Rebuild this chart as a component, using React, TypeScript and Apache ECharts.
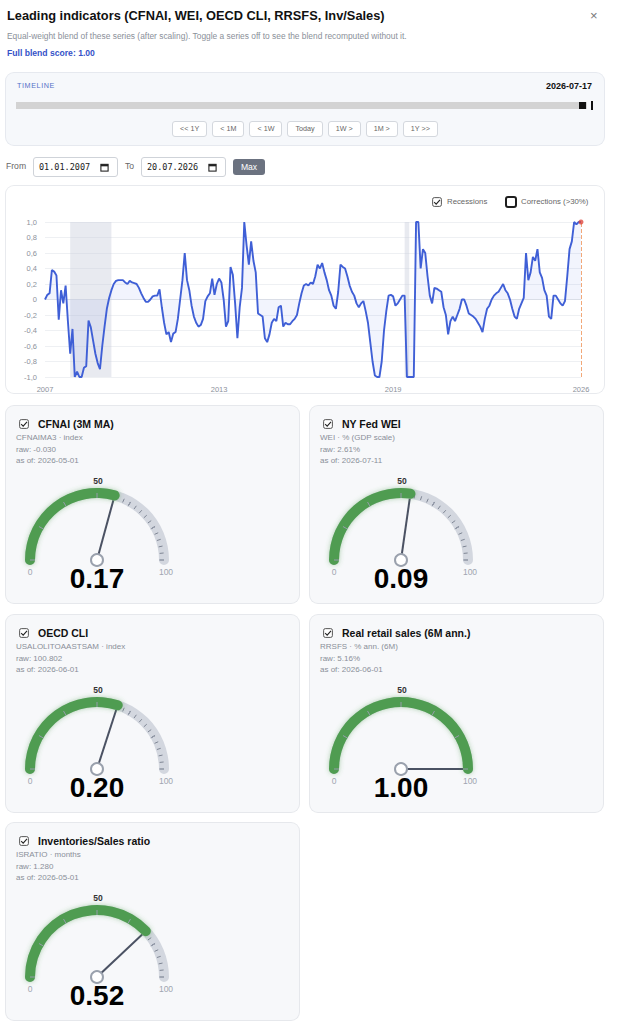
import React, { useEffect, useRef } from "react";
import * as echarts from "echarts";

const FONT = '"Liberation Sans", Arial, Helvetica, sans-serif';

// Monthly blend score, Jan 2007 .. Jul 2026, clipped to [-1, 1]
const START_YEAR = 2007;
const blendScore = [
  0.0, 0.06, 0.08, 0.38, 0.36, 0.31, -0.26, 0.12, -0.05, 0.18,
  -0.28, -0.7, -0.38, -1.0, -0.93, -1.0, -1.0, -0.88, -0.86, -0.27,
  -0.36, -0.53, -0.7, -0.82, -0.9, -0.6, -0.35, -0.12, 0.02, 0.12,
  0.2, 0.24, 0.25, 0.25, 0.25, 0.22, 0.2, 0.24, 0.22, 0.21,
  0.2, 0.15, 0.08, 0.02, -0.03, -0.03, 0.0, 0.04, 0.05, 0.05,
  0.13, -0.1, -0.3, -0.45, -0.42, -0.55, -0.44, -0.42, -0.25, 0.0,
  0.25, 0.6, 0.25, 0.12, -0.08, -0.22, -0.3, -0.35, -0.33, -0.25,
  -0.02, 0.04, 0.08, 0.27, 0.06, 0.2, 0.27, 0.22, 0.0, -0.35,
  -0.28, 0.42, 0.32, -0.05, -0.5, -0.1, 0.15, 1.0, 0.7, 0.45,
  0.75, 0.5, 0.35, -0.18, -0.2, -0.22, -0.5, -0.55, -0.45, -0.3,
  -0.25, -0.28, -0.1, -0.08, -0.35, -0.3, -0.32, -0.32, -0.28, -0.25,
  -0.2, -0.05, 0.08, 0.18, 0.2, 0.18, 0.22, 0.2, 0.3, 0.45,
  0.4, 0.47, 0.35, 0.25, 0.12, 0.05, -0.08, -0.12, 0.1, 0.45,
  0.42, 0.4, 0.3, 0.18, 0.1, 0.05, -0.05, -0.1, -0.05, -0.02,
  -0.15, -0.3, -0.55, -0.8, -0.98, -1.0, -1.0, -0.8, -0.4, -0.15,
  0.05, 0.06, 0.04, -0.08, -0.05, 0.0, 0.05, 0.05, -1.0, -1.0,
  -1.0, -1.0, 1.0, 1.0, 0.4, 0.65, 0.6, 0.3, 0.05, -0.05,
  0.15, 0.14, 0.12, 0.1, -0.1, -0.2, -0.45, -0.28, -0.22, -0.28,
  -0.2, -0.12, 0.0, 0.0, -0.08, -0.18, -0.2, -0.22, -0.25, -0.3,
  -0.35, -0.42, -0.25, -0.12, -0.08, 0.0, 0.05, 0.08, 0.1, 0.15,
  0.2, 0.12, 0.08, 0.0, -0.12, -0.22, -0.25, -0.12, -0.05, 0.02,
  0.6, 0.25, 0.35, 0.55, 0.5, 0.65, 0.35, 0.28, 0.12, 0.05,
  -0.22, -0.25, 0.05, 0.05, 0.0, -0.05, -0.08, -0.02, 0.3, 0.65,
  0.75, 1.0, 0.97, 1.0, 1.0,
];
const months = blendScore.map(
  (_, i) => `${START_YEAR + Math.floor(i / 12)}-${String((i % 12) + 1).padStart(2, "0")}`
);
// Category positions that carry a year label on the time axis
const xLabelIndices = [0, 76, 152, blendScore.length - 1];
const recessions = [
  ["2007-12", "2009-06"],
  ["2020-02", "2020-04"],
];

// Indicator cards
const cardTitles = ["CFNAI (3M MA)", "NY Fed WEI", "OECD CLI", "Real retail sales (6M ann.)", "Inventories/Sales ratio"];
const cardSeries = ["CFNAIMA3 · index", "WEI · % (GDP scale)", "USALOLITOAASTSAM · index", "RRSFS · % ann. (6M)", "ISRATIO · months"];
const cardRaw = ["-0.030", "2.61%", "100.802", "5.16%", "1.280"];
const cardAsOf = ["2026-05-01", "2026-07-11", "2026-06-01", "2026-06-01", "2026-05-01"];
const cardScores = [0.17, 0.09, 0.2, 1.0, 0.52];
const gaugeTickLabels = ["0", "50", "100"];

const timelineButtons = ["<< 1Y", "< 1M", "< 1W", "Today", "1W >", "1M >", "1Y >>"];

function CheckBox({ checked, size = 10, dark = false }: { checked: boolean; size?: number; dark?: boolean }) {
  return (
    <svg width={size} height={size} viewBox="0 0 12 12" style={{ display: "block" }}>
      <rect
        x={dark ? 1 : 0.75}
        y={dark ? 1 : 0.75}
        width={dark ? 10 : 10.5}
        height={dark ? 10 : 10.5}
        rx={2}
        fill="#fff"
        stroke={dark ? "#1f1f1f" : "#555"}
        strokeWidth={dark ? 2 : 1.2}
      />
      {checked && <polyline points="2.6,6.2 5,8.6 9.6,3.4" fill="none" stroke="#222" strokeWidth={1.3} />}
    </svg>
  );
}

function CalendarIcon() {
  return (
    <svg width={9} height={9} viewBox="0 0 10 10" style={{ display: "block" }}>
      <rect x={1} y={1.5} width={8} height={7.5} fill="none" stroke="#222" strokeWidth={1.2} />
      <rect x={1} y={1.5} width={8} height={2.2} fill="#222" />
    </svg>
  );
}

function Txt(props: {
  x?: number;
  right?: number;
  cy: number;
  size: number;
  color?: string;
  weight?: any;
  children: any;
  style?: any;
}) {
  const { x, right, cy, size, color = "#222", weight = "normal", children, style } = props;
  return (
    <div
      style={{
        position: "absolute",
        left: x,
        right,
        top: cy - size,
        lineHeight: `${size * 2}px`,
        fontSize: size,
        color,
        fontWeight: weight,
        whiteSpace: "nowrap",
        ...style,
      }}
    >
      {children}
    </div>
  );
}

function BlendChart() {
  const ref = useRef<HTMLDivElement>(null);
  useEffect(() => {
    const chart = echarts.init(ref.current!, null, { renderer: "svg" });
    const last = blendScore.length - 1;
    chart.setOption({
      animation: false,
      grid: { left: 39, right: 23, top: 36, bottom: 14 },
      xAxis: {
        type: "category",
        data: months,
        boundaryGap: false,
        axisLine: { lineStyle: { color: "#dfe2e8" } },
        axisTick: { show: false },
        splitLine: { show: false },
        axisLabel: {
          interval: (i: number) => xLabelIndices.includes(i),
          formatter: (v: string) => v.slice(0, 4),
          color: "#8c919b",
          fontSize: 7.5,
          margin: 8,
          fontFamily: FONT,
        },
      },
      yAxis: {
        type: "value",
        min: -1,
        max: 1,
        interval: 0.2,
        axisLine: { show: false },
        axisTick: { show: false },
        splitLine: { lineStyle: { color: "#eef0f3", width: 1 } },
        axisLabel: {
          formatter: (v: number) => (Math.abs(v) < 1e-9 ? "0" : v.toFixed(1).replace(".", ",")),
          color: "#8c919b",
          fontSize: 7.5,
          margin: 8,
          fontFamily: FONT,
        },
      },
      series: [
        {
          type: "line",
          data: blendScore,
          symbol: "none",
          lineStyle: { color: "#3f5fd6", width: 1.9 },
          areaStyle: { color: "rgba(92,120,225,0.12)" },
          markArea: {
            silent: true,
            itemStyle: { color: "rgba(200,205,220,0.42)" },
            data: recessions.map(([a, b]) => [{ xAxis: a }, { xAxis: b }]),
          },
          markLine: {
            silent: true,
            symbol: "none",
            label: { show: false },
            lineStyle: { color: "#f2a878", type: "dashed", width: 1 },
            data: [{ xAxis: months[last] }],
          },
        },
        {
          type: "scatter",
          data: [[months[last], blendScore[last]]],
          symbolSize: 5,
          itemStyle: { color: "#e0483e" },
          z: 5,
        },
      ],
    });
    return () => chart.dispose();
  }, []);
  return <div ref={ref} style={{ position: "absolute", left: 0, top: 0, width: 598, height: 207 }} />;
}

function Gauge({ score }: { score: number }) {
  const ref = useRef<HTMLDivElement>(null);
  useEffect(() => {
    const chart = echarts.init(ref.current!, null, { renderer: "svg" });
    const cx = 91;
    const cy = 154;
    const r = 72;
    const value = (score + 1) * 50;
    const common = {
      type: "gauge",
      center: [cx, cy],
      radius: r,
      startAngle: 180,
      endAngle: 0,
      min: 0,
      max: 100,
      splitNumber: 6,
    };
    chart.setOption({
      animation: false,
      series: [
        {
          ...common,
          axisLine: { roundCap: true, lineStyle: { width: 10, color: [[1, "#d3d7df"]] } },
          progress: {
            show: true,
            roundCap: true,
            width: 10,
            itemStyle: { color: "#4f9c51", shadowBlur: 5, shadowColor: "rgba(79,156,81,0.45)" },
          },
          axisTick: { show: true, splitNumber: 5, distance: -5, length: 4, lineStyle: { color: "#7f8694", width: 1 } },
          splitLine: { show: false },
          axisLabel: { show: false },
          pointer: { show: true, icon: "rect", length: 62, width: 2, itemStyle: { color: "#4b5263" } },
          anchor: {
            show: true,
            showAbove: true,
            size: 12,
            itemStyle: { color: "#fff", borderColor: "#9aa1ad", borderWidth: 2 },
          },
          title: { show: false },
          detail: {
            show: true,
            offsetCenter: [0, 18],
            formatter: () => score.toFixed(2),
            fontSize: 28,
            fontWeight: "bold",
            color: "#000",
            fontFamily: FONT,
          },
          data: [{ value }],
          z: 2,
        },
        {
          ...common,
          axisLine: { show: false },
          progress: { show: false },
          axisTick: { show: false },
          splitLine: { show: true, distance: -5, length: 5, lineStyle: { color: "#959cab", width: 1 } },
          axisLabel: { show: false },
          pointer: { show: false },
          anchor: { show: false },
          title: { show: false },
          detail: { show: false },
          data: [{ value: 0 }],
          z: 3,
        },
      ],
      graphic: [
        {
          type: "text",
          x: cx - 67,
          y: cy + 12,
          style: { text: gaugeTickLabels[0], align: "center", verticalAlign: "middle", fill: "#a0a5b0", fontSize: 8.5, fontFamily: FONT },
        },
        {
          type: "text",
          x: cx + 1,
          y: cy - 79,
          style: { text: gaugeTickLabels[1], align: "center", verticalAlign: "middle", fill: "#333", fontSize: 8.5, fontWeight: "bold", fontFamily: FONT },
        },
        {
          type: "text",
          x: cx + 69,
          y: cy + 12,
          style: { text: gaugeTickLabels[2], align: "center", verticalAlign: "middle", fill: "#a0a5b0", fontSize: 8.5, fontFamily: FONT },
        },
      ],
    });
    return () => chart.dispose();
  }, [score]);
  return <div ref={ref} style={{ position: "absolute", left: 0, top: 0, width: 293, height: 197 }} />;
}

function Card({ i, left, top }: { i: number; left: number; top: number }) {
  return (
    <div
      style={{
        position: "absolute",
        left,
        top,
        width: 293,
        height: 197,
        background: "#f7f8fa",
        borderRadius: 8,
        boxShadow: "0 0 0 1px #e6e8ec",
      }}
    >
      <div style={{ position: "absolute", left: 13, top: 13 }}>
        <CheckBox checked size={10} />
      </div>
      <Txt x={32} cy={18} size={10.5} weight="bold" color="#111">
        {cardTitles[i]}
      </Txt>
      <Txt x={10} cy={32} size={8} color="#8a8f99">
        {cardSeries[i]}
      </Txt>
      <Txt x={10} cy={44} size={8} color="#8a8f99">
        {`raw: ${cardRaw[i]}`}
      </Txt>
      <Txt x={10} cy={55} size={8} color="#8a8f99">
        {`as of: ${cardAsOf[i]}`}
      </Txt>
      <Gauge score={cardScores[i]} />
    </div>
  );
}

function DateBox({ left, text }: { left: number; text: string }) {
  return (
    <div
      style={{
        position: "absolute",
        left,
        top: 157,
        width: 85,
        height: 20,
        boxSizing: "border-box",
        border: "1px solid #cfd3d9",
        borderRadius: 3,
        background: "#fff",
      }}
    >
      <div
        style={{
          position: "absolute",
          left: 5,
          top: 0,
          lineHeight: "18px",
          fontSize: 8.5,
          fontFamily: '"DejaVu Sans Mono", monospace',
          color: "#222",
        }}
      >
        {text}
      </div>
      <div style={{ position: "absolute", right: 8, top: 4.5 }}>
        <CalendarIcon />
      </div>
    </div>
  );
}

export default function App() {
  const cardPos = [
    [6, 406],
    [310, 406],
    [6, 615],
    [310, 615],
    [6, 823],
  ];
  return (
    <div
      style={{
        position: "absolute",
        left: 0,
        top: 0,
        width: 621,
        height: 1024,
        background: "#fff",
        fontFamily: FONT,
        overflow: "hidden",
      }}
    >
      <Txt x={7} cy={15.5} size={12.8} weight="bold" color="#111">
        Leading indicators (CFNAI, WEI, OECD CLI, RRSFS, Inv/Sales)
      </Txt>
      <Txt x={590} cy={16} size={13} color="#777">
        ×
      </Txt>
      <Txt x={7} cy={36} size={8.4} color="#8a8f99">
        Equal-weight blend of these series (after scaling). Toggle a series off to see the blend recomputed without it.
      </Txt>
      <Txt x={7} cy={54} size={8.6} weight="bold" color="#3552c8">
        Full blend score: 1.00
      </Txt>

      {/* timeline panel */}
      <div
        style={{
          position: "absolute",
          left: 6,
          top: 73,
          width: 598,
          height: 72,
          background: "#f6f8fb",
          borderRadius: 8,
          boxShadow: "0 0 0 1px #e6e9ef",
        }}
      >
        <Txt x={11} cy={13} size={7.2} color="#5570c8" style={{ letterSpacing: 0.6 }}>
          TIMELINE
        </Txt>
        <Txt right={12} cy={13} size={9} weight="bold" color="#111">
          2026-07-17
        </Txt>
        <div style={{ position: "absolute", left: 10, top: 29, width: 571, height: 7, background: "#d3d3d3" }} />
        <div style={{ position: "absolute", left: 573, top: 29, width: 7, height: 7, background: "#111" }} />
        <div style={{ position: "absolute", left: 585, top: 28, width: 1.5, height: 9, background: "#111" }} />
        <div
          style={{
            position: "absolute",
            left: 0,
            top: 48,
            width: 598,
            height: 16,
            display: "flex",
            justifyContent: "center",
            gap: 5,
          }}
        >
          {timelineButtons.map((b) => (
            <div
              key={b}
              style={{
                height: 16,
                boxSizing: "border-box",
                padding: "0 7px",
                border: "1px solid #d4d8de",
                borderRadius: 3,
                background: "#fff",
                fontSize: 7.2,
                lineHeight: "14px",
                color: "#666",
                whiteSpace: "nowrap",
              }}
            >
              {b}
            </div>
          ))}
        </div>
      </div>

      {/* date range row */}
      <Txt x={6} cy={167} size={8.6} color="#666">
        From
      </Txt>
      <DateBox left={33} text="01.01.2007" />
      <Txt x={125} cy={167} size={8.6} color="#666">
        To
      </Txt>
      <DateBox left={141} text="20.07.2026" />
      <div
        style={{
          position: "absolute",
          left: 233,
          top: 159,
          width: 32,
          height: 16,
          background: "#6b7280",
          borderRadius: 3,
          color: "#fff",
          fontSize: 8.6,
          lineHeight: "16px",
          textAlign: "center",
        }}
      >
        Max
      </div>

      {/* blend chart panel */}
      <div
        style={{
          position: "absolute",
          left: 6,
          top: 186,
          width: 598,
          height: 207,
          background: "#fff",
          borderRadius: 8,
          boxShadow: "0 0 0 1px #e8eaee",
        }}
      >
        <BlendChart />
        <div style={{ position: "absolute", left: 426, top: 11 }}>
          <CheckBox checked size={10} />
        </div>
        <Txt x={441} cy={16} size={7.8} color="#666">
          Recessions
        </Txt>
        <div style={{ position: "absolute", left: 499, top: 10 }}>
          <CheckBox checked={false} size={12} dark />
        </div>
        <Txt x={515} cy={16} size={7.8} color="#666">
          Corrections (&gt;30%)
        </Txt>
      </div>

      {cardPos.map(([l, t], i) => (
        <Card key={i} i={i} left={l} top={t} />
      ))}
    </div>
  );
}
